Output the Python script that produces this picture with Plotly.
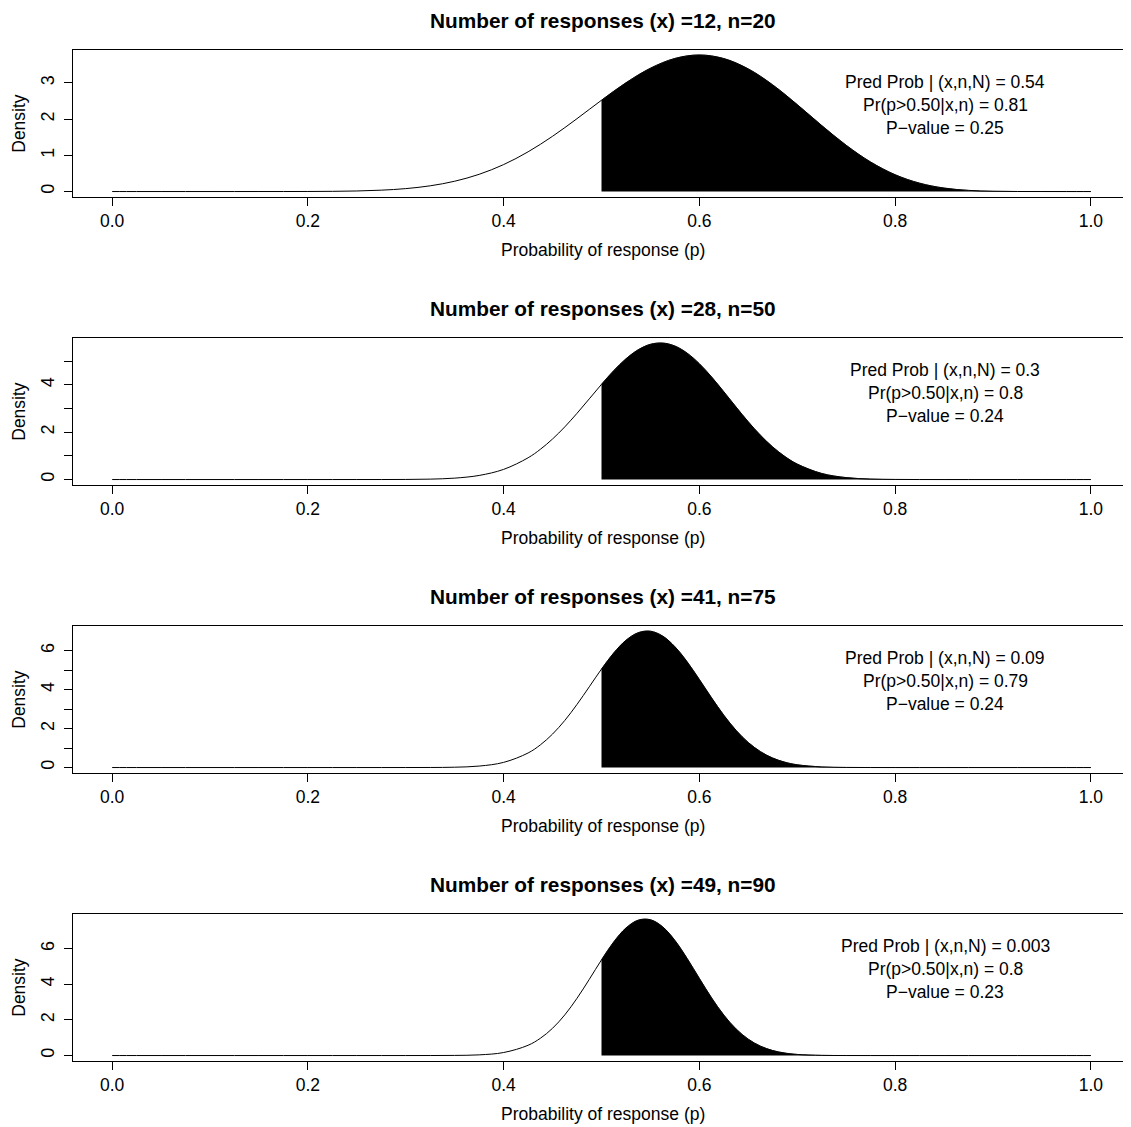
import plotly.graph_objects as go

# ---------------- data ----------------
titles = [
    "Number of responses (x) =12, n=20",
    "Number of responses (x) =28, n=50",
    "Number of responses (x) =41, n=75",
    "Number of responses (x) =49, n=90",
]

# probability grid for panel 1 (0 to 1 in steps of 0.025)
p_grid1 = [0.0, 0.025, 0.05, 0.075, 0.1, 0.125, 0.15, 0.175, 0.2, 0.225,
           0.25, 0.275, 0.3, 0.325, 0.35, 0.375, 0.4, 0.425, 0.45, 0.475,
           0.5, 0.525, 0.55, 0.575, 0.6, 0.625, 0.65, 0.675, 0.7, 0.725,
           0.75, 0.775, 0.8, 0.825, 0.85, 0.875, 0.9, 0.925, 0.95, 0.975, 1.0]
dens_panel1 = [0, 0, 0, 0, 0, 0, 0.0001, 0.0005, 0.0018, 0.0058,
               0.0158, 0.0378, 0.081, 0.1583, 0.285, 0.4763, 0.745, 1.0977, 1.527, 2.014,
               2.523, 3.006, 3.408, 3.678, 3.774, 3.675, 3.389, 2.946, 2.402, 1.825,
               1.279, 0.8158, 0.465, 0.2313, 0.096, 0.0318, 0.0075, 0.001, 0.0001, 0, 0]

# finer probability grid around the peak for panels 2-4
p_grid2 = [0.0, 0.025, 0.05, 0.075, 0.1, 0.125, 0.15, 0.175, 0.2, 0.225,
           0.25, 0.275, 0.3, 0.325, 0.35, 0.375, 0.4, 0.425,
           0.4375, 0.45, 0.4625, 0.475, 0.4875, 0.5, 0.5125, 0.525, 0.5375, 0.55,
           0.5625, 0.575, 0.5875, 0.6, 0.6125, 0.625, 0.6375, 0.65, 0.6625, 0.675,
           0.6875,
           0.7, 0.725, 0.75, 0.775, 0.8, 0.825, 0.85, 0.875, 0.9, 0.925, 0.95, 0.975, 1.0]
dens_panel2 = [0, 0, 0, 0, 0, 0, 0, 0, 0, 0,
               0.0001, 0.0008, 0.0041, 0.0171, 0.0594, 0.173, 0.429, 0.919,
               1.2759, 1.713, 2.2244, 2.797, 3.4064, 4.020, 4.5985, 5.098, 5.480, 5.710,
               5.7635, 5.637, 5.337, 4.890, 4.332, 3.707, 3.0617, 2.437, 1.8662, 1.373,
               0.9684,
               0.653, 0.257, 0.0817, 0.0201, 0.0037, 0.0005, 0, 0, 0, 0, 0, 0, 0]
dens_panel3 = [0, 0, 0, 0, 0, 0, 0, 0, 0, 0,
               0, 0, 0.0004, 0.0029, 0.0169, 0.0752, 0.2645, 0.7473,
               1.1617, 1.7175, 2.417, 3.241, 4.1436, 5.054, 5.8804, 6.531, 6.920, 6.997,
               6.747, 6.201, 5.427, 4.519, 3.576, 2.685, 1.9098, 1.284, 0.8142, 0.4857,
               0.2716,
               0.1419, 0.0311, 0.0049, 0.0005, 0, 0, 0, 0, 0, 0, 0, 0, 0]
dens_panel4 = [0, 0, 0, 0, 0, 0, 0, 0, 0, 0,
               0, 0, 0.0001, 0.0008, 0.0065, 0.0381, 0.1689, 0.5753,
               0.967, 1.530, 2.2826, 3.214, 4.2723, 5.368, 6.374, 7.157, 7.596, 7.620,
               7.221, 6.459, 5.448, 4.328, 3.2343, 2.269, 1.4915, 0.9162, 0.5245, 0.279,
               0.1373,
               0.0623, 0.0098, 0.001, 0.0001, 0, 0, 0, 0, 0, 0, 0, 0, 0]

threshold = 0.5
pred_prob = ["0.54", "0.3", "0.09", "0.003"]
post_prob = ["0.81", "0.8", "0.79", "0.8"]
p_values = ["0.25", "0.24", "0.24", "0.23"]

x_tickvals = [0.0, 0.2, 0.4, 0.6, 0.8, 1.0]
x_ticktext = ["0.0", "0.2", "0.4", "0.6", "0.8", "1.0"]
y_tickvals = [[0, 1, 2, 3], [0, 1, 2, 3, 4, 5], [0, 1, 2, 3, 4, 5, 6], [0, 2, 4, 6]]
y_ticktext = [["0", "1", "2", "3"], ["0", "", "2", "", "4", ""],
              ["0", "", "2", "", "4", "", "6"], ["0", "2", "4", "6"]]
y_max = [3.774, 5.767, 7.009, 7.663]

p_list = [p_grid1, p_grid2, p_grid2, p_grid2]
d_list = [dens_panel1, dens_panel2, dens_panel3, dens_panel4]

# ---------------- layout geometry ----------------
OFF = 8  # page body margin
W, H = 1131 - OFF, 1127 - OFF
FONT = "Liberation Sans, Arial, Helvetica, sans-serif"
BOX_L, BOX_R = 73 - OFF, 1130 - OFF
BOX_T0, BOX_B0 = 49.5 - OFF, 197.0 - OFF
STEP = 288.0


def py(px):
    return 1 - px / H


fig = go.Figure()
annotations = []

for i in range(4):
    xa = "x" if i == 0 else f"x{i+1}"
    ya = "y" if i == 0 else f"y{i+1}"
    p = p_list[i]
    d = d_list[i]
    ps = [v for v in p if v >= threshold]
    ds = [d[j] for j, v in enumerate(p) if v >= threshold]
    fig.add_trace(go.Scatter(x=ps, y=ds, xaxis=xa, yaxis=ya, mode="lines",
                             line=dict(color="black", width=0.5, shape="spline"),
                             fill="tozeroy", fillcolor="black", hoverinfo="skip",
                             showlegend=False))
    fig.add_trace(go.Scatter(x=p, y=d, xaxis=xa, yaxis=ya, mode="lines",
                             line=dict(color="black", width=1, shape="spline"),
                             showlegend=False))

    top = BOX_T0 + STEP * i
    bot = BOX_B0 + STEP * i
    axname = "" if i == 0 else str(i + 1)
    ymx = y_max[i]
    fig.update_layout(**{
        f"xaxis{axname}": dict(
            domain=[BOX_L / W, BOX_R / W], range=[-0.04, 1.04], anchor=ya,
            showline=True, mirror=True, linecolor="black", linewidth=1,
            ticks="outside", ticklen=8, tickcolor="black", tickwidth=1,
            tickvals=x_tickvals, ticktext=x_ticktext, showgrid=False,
            zeroline=False, automargin=False,
            tickfont=dict(family=FONT, size=17.5, color="black")),
        f"yaxis{axname}": dict(
            domain=[py(bot), py(top)], range=[-0.04 * ymx, 1.04 * ymx], anchor=xa,
            showline=True, mirror=True, linecolor="black", linewidth=1,
            ticks="outside", ticklen=8, tickcolor="black", tickwidth=1,
            tickvals=y_tickvals[i], ticktext=y_ticktext[i], tickangle=-90,
            ticklabelstandoff=3,
            showgrid=False, zeroline=False, automargin=False,
            tickfont=dict(family=FONT, size=18, color="black")),
    })

    annotations.append(dict(text="<b>" + titles[i] + "</b>", x=(602.5 - OFF) / W,
                            y=py(20.5 - OFF + STEP * i),
                            xref="paper", yref="paper", showarrow=False,
                            xanchor="center", yanchor="middle",
                            font=dict(family=FONT, size=20.8, color="black")))
    annotations.append(dict(text="Probability of response (p)", x=(602.5 - OFF) / W,
                            y=py(250 - OFF + STEP * i),
                            xref="paper", yref="paper", showarrow=False,
                            xanchor="center", yanchor="middle",
                            font=dict(family=FONT, size=17.5, color="black")))
    annotations.append(dict(text="Density", x=(19.5 - OFF) / W, y=py((top + bot) / 2),
                            xref="paper", yref="paper", showarrow=False, textangle=-90,
                            xanchor="center", yanchor="middle",
                            font=dict(family=FONT, size=17.5, color="black")))
    lines = [f"Pred Prob | (x,n,N) = {pred_prob[i]}",
             f"Pr(p>0.50|x,n) = {post_prob[i]}",
             f"P\u2212value = {p_values[i]}"]
    for k, t in enumerate(lines):
        annotations.append(dict(text=t, x=(945 - OFF) / W, y=py(top + 32.5 + 22.8 * k),
                                xref="paper", yref="paper", showarrow=False,
                                xanchor="center", yanchor="middle",
                                font=dict(family=FONT, size=17.5, color="black")))

fig.update_layout(width=W, height=H, margin=dict(l=0, r=0, t=0, b=0),
                  plot_bgcolor="white", paper_bgcolor="white",
                  annotations=annotations, showlegend=False,
                  font=dict(family=FONT, color="black"))

fig.write_html("out.html")
